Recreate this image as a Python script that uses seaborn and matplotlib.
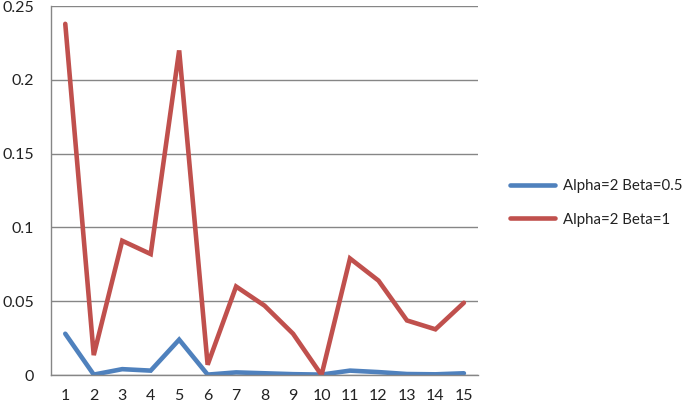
import matplotlib
matplotlib.use("Agg")
import matplotlib.pyplot as plt
import seaborn as sns
import pandas as pd
import numpy as np
from matplotlib.lines import Line2D

categories = list(range(1, 16))
series_names = ["Alpha=2 Beta=0.5", "Alpha=2 Beta=1"]
blue_values = [0.028, 0.0003, 0.004, 0.003, 0.024, 0.0003, 0.0018, 0.0012, 0.0006, 0.0003,
               0.003, 0.002, 0.0007, 0.0005, 0.0012]
red_values = [0.238, 0.0135, 0.091, 0.082, 0.220, 0.007, 0.060, 0.047, 0.028, 0.0,
              0.079, 0.064, 0.037, 0.031, 0.049]
y_ticks = [0, 0.05, 0.1, 0.15, 0.2, 0.25]
y_tick_labels = ["0", "0.05", "0.1", "0.15", "0.2", "0.25"]

df = pd.DataFrame({
    "x": categories * 2,
    "y": blue_values + red_values,
    "series": [series_names[0]] * 15 + [series_names[1]] * 15,
})

sns.set_theme(style="white")
plt.rcParams["font.family"] = ["Lato", "DejaVu Sans"]

fig = plt.figure(figsize=(6.85, 4.09), dpi=100)
ax = fig.add_axes([0.0745, 0.083, 0.6235, 0.902])

palette = {series_names[0]: "#4F81BD", series_names[1]: "#C0504D"}
sns.lineplot(data=df, x="x", y="y", hue="series", palette=palette, ax=ax,
             linewidth=3.3, legend=False, solid_capstyle="round", solid_joinstyle="miter")

gray = "#868686"
ax.set_xlim(0.5, 15.5)
ax.set_ylim(0, 0.25)
ax.set_yticks(y_ticks)
ax.set_yticklabels(y_tick_labels)
ax.set_xticks(categories)
ax.set_xticklabels([str(c) for c in categories])
ax.set_xticks(np.arange(0.5, 16, 1), minor=True)
ax.tick_params(axis="x", which="major", length=0, pad=10, labelsize=11.5)
ax.tick_params(axis="x", which="minor", length=5, width=1, color=gray, direction="out")
ax.tick_params(axis="y", which="major", length=6, width=1, color=gray, pad=6, labelsize=11.5, direction="out")
for t in ax.get_xticklabels() + ax.get_yticklabels():
    t.set_color("#222222")

ax.grid(axis="y", color=gray, linewidth=1)
ax.set_axisbelow(True)
for s in ["top", "right"]:
    ax.spines[s].set_visible(False)
ax.spines["left"].set_color(gray)
ax.spines["bottom"].set_color(gray)
ax.spines["left"].set_linewidth(1)
ax.spines["bottom"].set_linewidth(1)
ax.set_xlabel("")
ax.set_ylabel("")

handles = [Line2D([0], [0], color=palette[n], linewidth=3.3, solid_capstyle="round") for n in series_names]
leg = fig.legend(handles, series_names, loc="upper left", bbox_to_anchor=(0.725, 0.595),
                 frameon=False, fontsize=10.8, handlelength=3.0, handletextpad=0.5, labelspacing=1.3)
for t in leg.get_texts():
    t.set_color("#222222")

fig.savefig("out.png", dpi=100)
